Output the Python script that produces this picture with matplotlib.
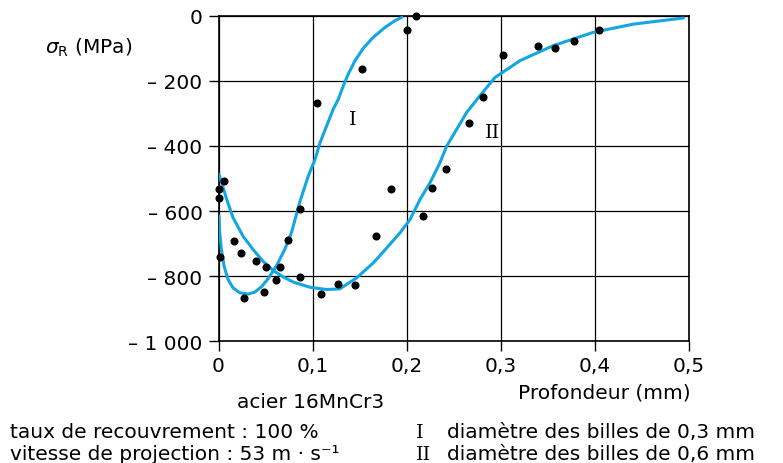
import matplotlib
matplotlib.use("Agg")
import matplotlib.pyplot as plt

# measured residual stresses (MPa) vs depth (mm)
depth_pts = [0.000, 0.001, 0.006, 0.002, 0.016, 0.024, 0.0395, 0.027, 0.048, 0.051,
             0.0615, 0.065, 0.0735, 0.087, 0.087, 0.1045, 0.109, 0.1275, 0.145, 0.153,
             0.1675, 0.1835, 0.200, 0.210, 0.2175, 0.227, 0.242, 0.266, 0.281, 0.303,
             0.3395, 0.358, 0.3785, 0.4045]
sigma_pts = [-532, -561, -507, -742, -693, -728, -754, -866, -849, -773,
             -812, -771, -689, -595, -804, -268, -854, -823, -828, -163,
             -677, -532, -44, -2, -615, -530, -472, -331, -250, -122,
             -93, -98, -79, -44]

# fitted profile I (0,3 mm shot)
depth_I = [0.0005, 0.0013, 0.003, 0.0059, 0.0101, 0.0154, 0.0226, 0.0314, 0.0385, 0.0455,
           0.0527, 0.0615, 0.0704, 0.0775, 0.0867, 0.0955, 0.1027, 0.108, 0.122, 0.1275,
           0.1328, 0.138, 0.1452, 0.154, 0.1647, 0.1771, 0.1878, 0.195]
sigma_I = [-615, -667, -718, -769, -810, -836, -851, -855, -849, -833,
           -808, -769, -718, -667, -570, -492, -441, -390, -287, -256,
           -215, -179, -138, -100, -66, -36, -15, -5]

# fitted profile II (0,6 mm shot)
depth_II = [0.0005, 0.0087, 0.0154, 0.026, 0.0367, 0.0473, 0.058, 0.0686, 0.0793, 0.0973,
            0.115, 0.129, 0.147, 0.1647, 0.179, 0.193, 0.2037, 0.2144, 0.225, 0.2356,
            0.2428, 0.264, 0.278, 0.294, 0.3207, 0.356, 0.3987, 0.441, 0.4945]
sigma_II = [-487, -564, -620, -677, -718, -754, -782, -802, -818, -834,
            -841, -839, -805, -759, -713, -667, -626, -564, -513, -451,
            -400, -297, -246, -190, -138, -92, -51, -26, -7]

x_ticks = [0, 0.1, 0.2, 0.3, 0.4, 0.5]
x_labels = ["0", "0,1", "0,2", "0,3", "0,4", "0,5"]
y_ticks = [0, -200, -400, -600, -800, -1000]
y_labels = ["0", "\u2013 200", "\u2013 400", "\u2013 600", "\u2013 800", "\u2013 1 000"]

blue = "#12a6e2"
plt.rcParams["font.family"] = ["DejaVu Sans"]
serif = "DejaVu Serif"
fs = 14.5

fig = plt.figure(figsize=(7.83, 4.64), dpi=100)
ax = fig.add_axes([0.2791, 0.2623, 0.6003, 0.7017])

ax.plot(depth_I, sigma_I, color=blue, lw=2.2, solid_capstyle="round",
        solid_joinstyle="round", zorder=3)
ax.plot(depth_II, sigma_II, color=blue, lw=2.2, solid_capstyle="round",
        solid_joinstyle="round", zorder=3)
ax.plot(depth_pts, sigma_pts, "o", color="black", ms=4.8, zorder=4, clip_on=False)

ax.set_xlim(0, 0.5)
ax.set_ylim(-1000, 0)
ax.set_xticks(x_ticks)
ax.set_xticklabels(x_labels, fontsize=fs)
ax.set_yticks(y_ticks)
ax.set_yticklabels(y_labels, fontsize=fs)
ax.tick_params(axis="y", direction="out", length=7.5, width=1.0, pad=4)
ax.tick_params(axis="x", direction="out", length=7, width=1.0, pad=3.5)
ax.grid(True, color="black", lw=0.9)
for s in ax.spines.values():
    s.set_linewidth(1.2)

ax.text(0.143, -318, "I", family=serif, fontsize=14, ha="center", va="center")
ax.text(0.291, -356, "II", family=serif, fontsize=14, ha="center", va="center")

fig.text(45 / 783, 1 - 48 / 464, r"$\sigma_{\rm R}$ (MPa)", fontsize=fs, va="center")
fig.text(604 / 783, 1 - 393 / 464, "Profondeur (mm)", fontsize=fs, ha="center", va="center")
fig.text(311 / 783, 1 - 402 / 464, "acier 16MnCr3", fontsize=fs, ha="center", va="center")

# notes under the chart, drawn on a shared baseline per row
row1, row2 = 1 - 438 / 464, 1 - 460 / 464
fig.text(10 / 783, row1, "taux de recouvrement : 100 %", fontsize=fs, va="baseline")
fig.text(10 / 783, row2, "vitesse de projection : 53 m \u00b7 s\u207b\u00b9",
         fontsize=fs, va="baseline")
fig.text(416 / 783, row1, "I", family=serif, fontsize=14, va="baseline")
fig.text(416 / 783, row2, "II", family=serif, fontsize=14, va="baseline")
fig.text(447 / 783, row1, "diamètre des billes de 0,3 mm", fontsize=fs, va="baseline")
fig.text(447 / 783, row2, "diamètre des billes de 0,6 mm", fontsize=fs, va="baseline")

fig.savefig("out.png", dpi=100)
